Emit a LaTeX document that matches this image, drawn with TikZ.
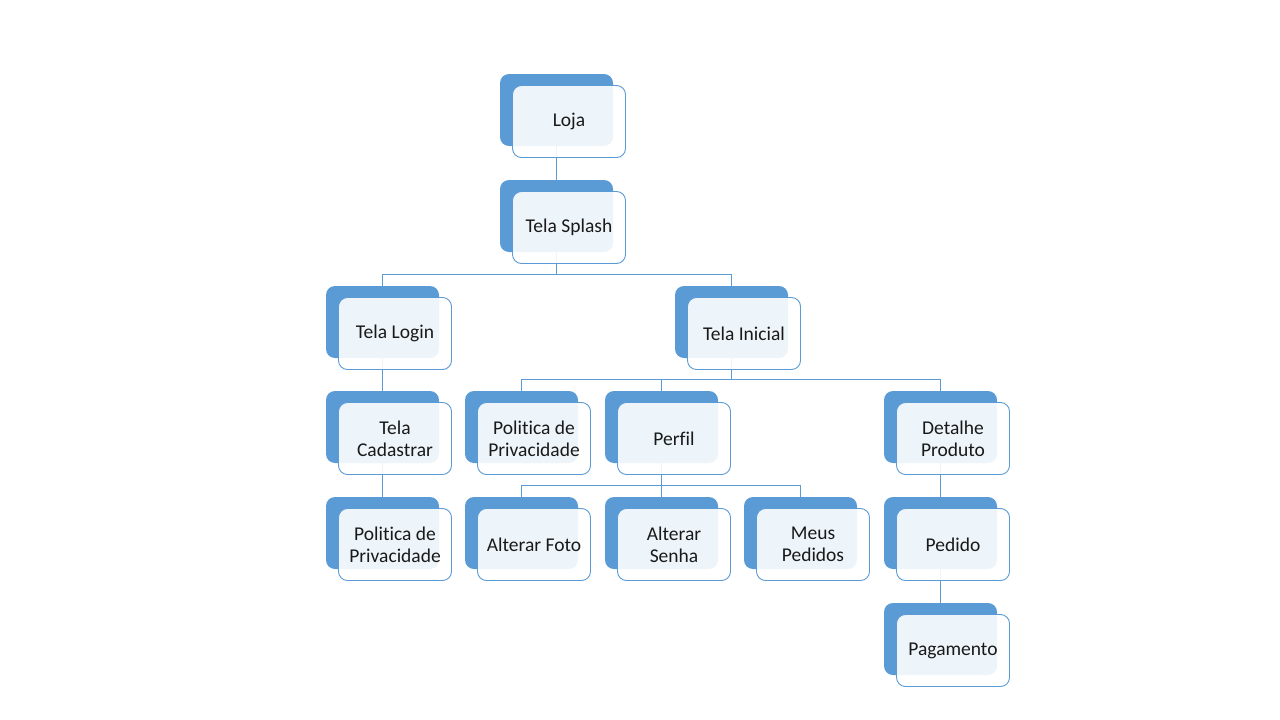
\documentclass[tikz,border=0pt]{standalone}
\usepackage{fontspec}
\setmainfont{Carlito}[RawFeature={-liga}]
\usetikzlibrary{backgrounds}
\definecolor{sablue}{HTML}{5B9BD5}
\tikzset{
  backbox/.style={fill=sablue, draw=none, rounded corners=9pt, minimum width=113pt, minimum height=72pt, inner sep=0pt},
  frontbox/.style={fill=white, fill opacity=0.9, text opacity=1, draw=sablue, draw opacity=1, line width=0.9pt, rounded corners=9pt, minimum width=113pt, minimum height=72pt, inner sep=0pt, align=center, font=\fontsize{19.5}{22}\selectfont, text=black!90},
  conn/.style={draw=sablue, line width=0.9pt}
}
\newcommand\mknode[4]{%
  \node[backbox] (#1B) at (#2+56.5,#3+36) {};
  \node[frontbox] (#1) at (#2+69,#3+47.5) {#4};
}
\begin{document}
\begin{tikzpicture}[x=1pt,y=-1pt]
\useasboundingbox (0,0) rectangle (1280,720);
\mknode{loja}{500}{74}{Loja}
\mknode{splash}{500}{180}{Tela Splash}
\mknode{login}{326}{286}{Tela Login}
\mknode{inicial}{675}{286}{Tela Inicial}
\mknode{cad}{326}{391}{Tela\\Cadastrar}
\mknode{privA}{326}{497}{Politica de\\Privacidade}
\mknode{privB}{465}{391}{Politica de\\Privacidade}
\mknode{perfil}{605}{391}{Perfil}
\mknode{detalhe}{884}{391}{Detalhe\\Produto}
\mknode{foto}{465}{497}{Alterar Foto}
\mknode{senha}{605}{497}{Alterar\\Senha}
\mknode{pedidos}{744}{497}{Meus\\Pedidos}
\mknode{pedido}{884}{497}{Pedido}
\mknode{pag}{884}{603}{Pagamento}
\begin{pgfonlayer}{background}
\draw[conn] (splashB.north) -- ++(0,-11.5) -| (lojaB.south);
\draw[conn] (loginB.north) -- ++(0,-11.5) -| (splashB.south);
\draw[conn] (inicialB.north) -- ++(0,-11.5) -| (splashB.south);
\draw[conn] (cadB.north) -- ++(0,-11.5) -| (loginB.south);
\draw[conn] (privAB.north) -- ++(0,-11.5) -| (cadB.south);
\draw[conn] (privBB.north) -- ++(0,-11.5) -| (inicialB.south);
\draw[conn] (perfilB.north) -- ++(0,-11.5) -| (inicialB.south);
\draw[conn] (detalheB.north) -- ++(0,-11.5) -| (inicialB.south);
\draw[conn] (fotoB.north) -- ++(0,-11.5) -| (perfilB.south);
\draw[conn] (senhaB.north) -- ++(0,-11.5) -| (perfilB.south);
\draw[conn] (pedidosB.north) -- ++(0,-11.5) -| (perfilB.south);
\draw[conn] (pedidoB.north) -- ++(0,-11.5) -| (detalheB.south);
\draw[conn] (pagB.north) -- ++(0,-11.5) -| (pedidoB.south);
\end{pgfonlayer}
\end{tikzpicture}
\end{document}
